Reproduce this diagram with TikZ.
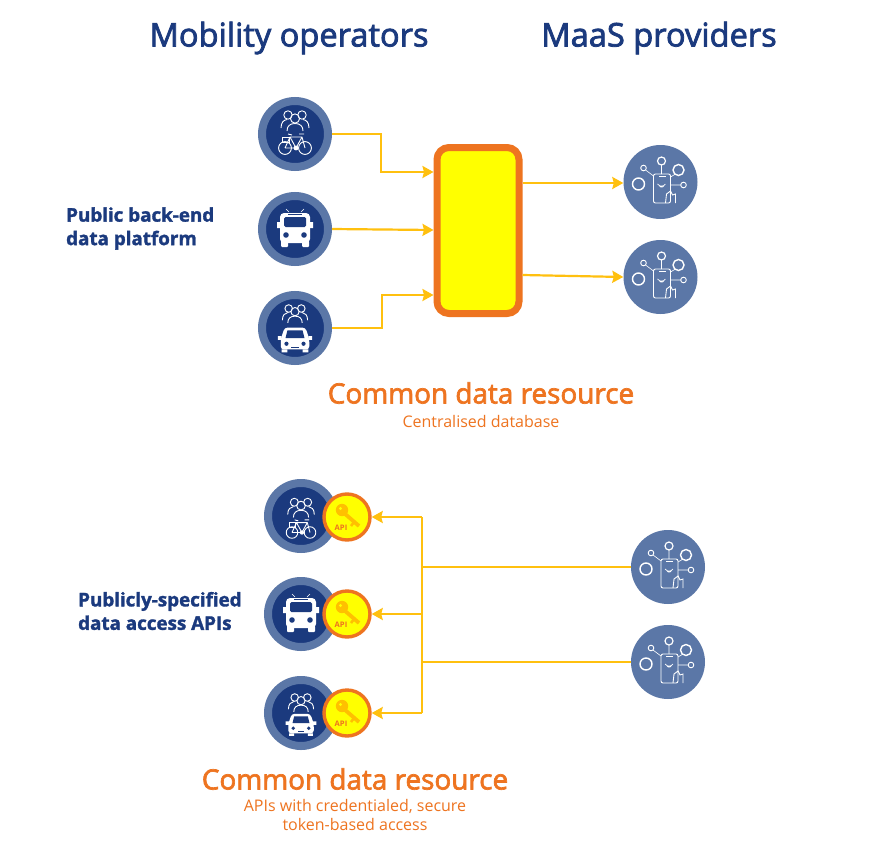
\documentclass[tikz,border=0pt]{standalone}
\usepackage{fontspec}
\setmainfont{Open Sans}
\newfontfamily\semifont{Open Sans}[FakeBold=2.4]
\newfontfamily\heavyfont{Open Sans Bold}[FakeBold=1.6]
\usetikzlibrary{arrows.meta,calc}
\definecolor{navy}{HTML}{1B3A7E}
\definecolor{ringblue}{HTML}{5B77A7}
\definecolor{wire}{HTML}{FFC00F}
\definecolor{boxorange}{HTML}{EE7420}
\definecolor{fillyellow}{HTML}{FFFF00}
\definecolor{keygold}{HTML}{FFC000}
\tikzset{
  x=1pt,y=-1pt,
  opdisc/.style={circle,draw=ringblue,line width=8pt,fill=navy,minimum size=66pt,inner sep=0pt,outer sep=4pt},
  maasdisc/.style={circle,fill=ringblue,minimum size=74pt,inner sep=0pt},
  apidisc/.style={circle,draw=boxorange,line width=3.4pt,fill=fillyellow,minimum size=46pt,inner sep=0pt,outer sep=1.7pt},
  wireline/.style={draw=wire,line width=2.2pt},
  wirearrow/.style={wireline,-{Stealth[length=11pt,width=12pt,inset=1.5pt]}},
  heading/.style={text=navy,font=\semifont\fontsize{32.6}{36}\selectfont,inner sep=0pt},
  sidelabel/.style={text=navy,font=\heavyfont\fontsize{18.8}{23.5}\selectfont,align=left,anchor=west,inner sep=0pt},
  orangehead/.style={text=boxorange,font=\semifont\fontsize{27.9}{32}\selectfont,inner sep=0pt},
  orangesub/.style={text=boxorange,font=\fontsize{16}{19}\selectfont,align=center,inner sep=0pt},
  ico/.style={draw=white,line width=0.9pt,fill=none},
  pics/people/.style={code={
    \draw[ico] (-7,-5) circle (4.2) (7,-5) circle (4.2) (0,-1.5) circle (4.6);
    \draw[ico] (-14,8) .. controls (-14,2) and (-11,0) .. (-8,-0.5);
    \draw[ico] (14,8) .. controls (14,2) and (11,0) .. (8,-0.5);
    \draw[ico] (-8,11) .. controls (-8,6) and (-5,3.5) .. (0,3.5) .. controls (5,3.5) and (8,6) .. (8,11);
  }},
  pics/bike/.style={code={
    \draw[ico] (-10,5) circle (6.4) (10,5) circle (6.4);
    \draw[ico] (-10,5) -- (-5,-6) -- (7,-6) -- (10,5) (-5,-6) -- (1,5) -- (7,-6) (-10,5) -- (1,5);
    \draw[ico] (-13,-6) rectangle (-6,-1);
    \draw[ico] (-7,-9) -- (-3,-8) (4,-9) -- (9,-9);
    \fill[white] (1,5) circle (2.4);
  }},
  pics/bus/.style={code={
    \fill[white,rounded corners=4pt] (-15,-15) rectangle (15,15);
    \fill[white] (-18,-6) rectangle (-14,0) (14,-6) rectangle (18,0);
    \fill[white,rounded corners=1pt] (-14,13) rectangle (-7,19) (7,13) rectangle (14,19);
    \fill[navy,rounded corners=1.5pt] (-11,-11) rectangle (11,-1);
    \fill[navy] (-9,7) circle (2.8) (9,7) circle (2.8);
    \fill[navy] (-7,-14) rectangle (7,-13);
    \draw[white,line width=0.6pt] (-6,-16) -- (-9,-19) (6,-16) -- (9,-19);
  }},
  pics/car/.style={code={
    \fill[white,rounded corners=3pt] (-15,0) -- (-11,-12) -- (11,-12) -- (15,0) -- (15,11) -- (-15,11) -- cycle;
    \fill[white] (-18,-3) rectangle (-14,1) (14,-3) rectangle (18,1);
    \fill[white] (-14,11) rectangle (-8,14) (8,11) rectangle (14,14);
    \fill[navy] (-10,-1) -- (-8,-9) -- (8,-9) -- (10,-1) -- cycle;
    \fill[navy] (-9,5) circle (2.2) (9,5) circle (2.2);
    \fill[navy] (-4,8) rectangle (4,9);
  }},
  pics/phone/.style={code={
    \draw[ico,line width=1.4pt] (-22,2) circle (6);
    \draw[ico,line width=1.2pt] (1,-21) circle (4);
    \draw[ico,line width=1.4pt] (18,-12) circle (5.5);
    \draw[ico] (-17,-14) circle (2.8) (23,3) circle (2.8);
    \draw[ico,line width=0.6pt] (-15,-12) -- (-7,-6) (1,-17) -- (1,-8) (15,-8) -- (10,-5) (20,3) -- (10,3);
    \draw[ico,rounded corners=2pt] (-7,-8) rectangle (10,21);
    \draw[ico,line width=0.7pt] (-3,2) arc (150:30:4.6) (-1,4) arc (150:30:2.4);
    \draw[ico,line width=0.9pt] (5,21) -- (6,12) -- (10,9) -- (12,13) -- (15,12) -- (15,21);
    \fill[white] (-2,-6.5) rectangle (5,-5.5);
  }},
  pics/apikey/.style={code={
    \fill[keygold] (-5,-7) circle (6.2);
    \fill[fillyellow] (-6.5,-8.5) circle (1.6);
    \draw[keygold,line width=3.8pt] (-3,-4) -- (12,9);
    \draw[keygold,line width=2.6pt] (7,5) -- (4,9);
    \node[text=boxorange,font=\bfseries\fontsize{7.6}{8}\selectfont,inner sep=0pt] at (-6,11) {API};
  }},
}
\begin{document}
\begin{tikzpicture}
\useasboundingbox (0,0) rectangle (875,859);
\fill[white] (0,0) rectangle (875,859);

\node[heading] (h1) at (289,38) {Mobility operators};
\node[heading] (h2) at (659,38) {MaaS providers};

% upper section
\node[opdisc] (a1) at (295,134) {};
\node[opdisc] (a2) at (295,229) {};
\node[opdisc] (a3) at (295,328) {};
\pic at (295,120) {people};
\pic at (295,143) {bike};
\pic at (295,228) {bus};
\pic[scale=.9] at (295,313) {people};
\pic[scale=.95] at (295,339) {car};

\node[draw=boxorange,line width=7pt,fill=fillyellow,rounded corners=12pt,minimum width=82pt,minimum height=166pt,inner sep=0pt,outer sep=3.5pt] (box) at (478,230.5) {};

\node[maasdisc] (m1) at (660.5,182) {};
\node[maasdisc] (m2) at (660.5,277) {};
\pic at (660.5,182) {phone};
\pic at (660.5,277) {phone};

\coordinate (i1) at (box.west |- 0,172);
\coordinate (i2) at (box.west |- 0,230);
\coordinate (i3) at (box.west |- 0,295);
\coordinate (o1) at (box.east |- 0,183);
\coordinate (o2) at (box.east |- 0,275);
\draw[wirearrow] (a1.east) -- (381,134) -- (381,172) -- (i1);
\draw[wirearrow] (a2.east) -- (i2);
\draw[wirearrow] (a3.east) -- (382,328) -- (382,295) -- (i3);
\draw[wirearrow] (o1) -- (m1.west |- o1);
\draw[wirearrow] (o2) -- (m2.west);

\node[sidelabel] (l1) at (66,228.5) {Public back-end\\data platform};
\node[orangehead] (c1) at (481,393) {Common data resource};
\node[orangesub] (s1) at (481,421) {Centralised database};

% lower section
\node[opdisc] (b1) at (301,516) {};
\node[opdisc] (b2) at (301,614) {};
\node[opdisc] (b3) at (301,713) {};
\pic[scale=.95] at (301,507) {people};
\pic[scale=.9] at (301,528) {bike};
\pic at (301,613) {bus};
\pic[scale=.9] at (301,702) {people};
\pic[scale=.85] at (301,724) {car};

\node[apidisc] (k1) at (347,517) {};
\node[apidisc] (k2) at (347,614) {};
\node[apidisc] (k3) at (347,713) {};
\pic at (347,517) {apikey};
\pic at (347,614) {apikey};
\pic at (347,713) {apikey};

\node[maasdisc] (n1) at (668,567) {};
\node[maasdisc] (n2) at (668,662) {};
\pic at (668,567) {phone};
\pic at (668,662) {phone};

\coordinate (t1) at (422,517);
\coordinate (t2) at (422,614);
\coordinate (t3) at (422,713);
\coordinate (j1) at (422,567);
\coordinate (j2) at (422,662);
\draw[wireline] (t1) -- (t3);
\draw[wireline] (n1.west) -- (j1);
\draw[wireline] (n2.west) -- (j2);
\draw[wirearrow] (t1) -- (k1.east);
\draw[wirearrow] (t2) -- (k2.east);
\draw[wirearrow] (t3) -- (k3.east);

\node[sidelabel] (l2) at (78,611) {Publicly-specified\\data access APIs};
\node[orangehead] (c2) at (355,779) {Common data resource};
\node[orangesub] (s2) at (355,815) {APIs with credentialed, secure\\token-based access};
\end{tikzpicture}
\end{document}
